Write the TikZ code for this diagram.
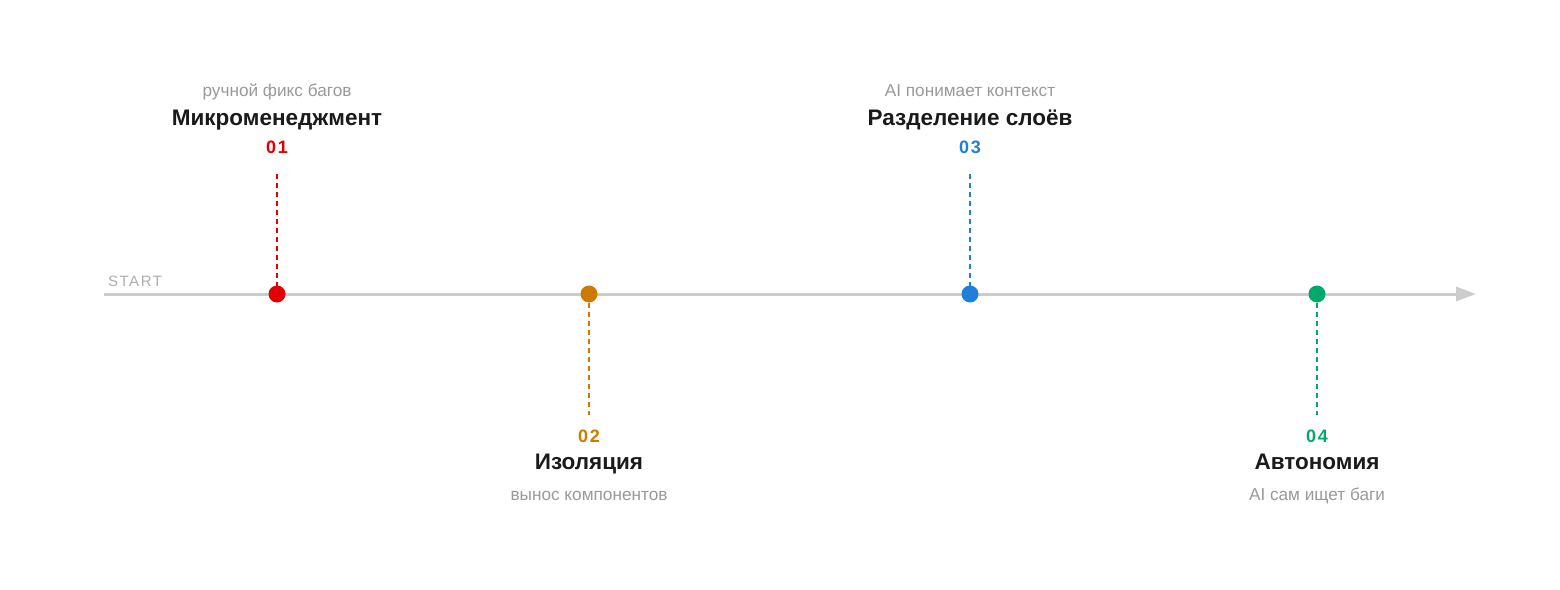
\documentclass[tikz,border=0pt]{standalone}
\usepackage{fontspec}
\setmainfont{Liberation Sans}
\newfontfamily\numfont[LetterSpace=10]{Liberation Sans}
\newfontfamily\startfont[LetterSpace=10]{Liberation Sans}
\usetikzlibrary{arrows.meta}

\definecolor{axisgray}{HTML}{CCCCCC}
\definecolor{subgray}{HTML}{999999}
\definecolor{titleblack}{HTML}{1A1A1A}
\definecolor{stepred}{HTML}{E00000}
\definecolor{steporange}{HTML}{CC7A00}
\definecolor{stepblue}{HTML}{1F7FD9}
\definecolor{stepgreen}{HTML}{00A86B}

\tikzset{
  dot/.style={circle, fill=#1, inner sep=0pt, minimum size=17pt},
  stem/.style={#1, dashed, dash pattern=on 5pt off 4pt, line width=1.6pt},
  num/.style={anchor=base, text=#1, font=\numfont\bfseries\fontsize{18}{21}\selectfont},
  ttl/.style={anchor=base, text=titleblack, font=\bfseries\fontsize{22.5}{26}\selectfont},
  sub/.style={anchor=base, text=subgray, font=\fontsize{17.2}{20}\selectfont},
}

\begin{document}
\begin{tikzpicture}[x=1pt, y=-1pt]
\useasboundingbox (0,0) rectangle (1560,589);

%% axe
\coordinate (axstart) at (104,294);
\coordinate (axend) at (1476,294);
\draw[axisgray, line width=3pt, -{Triangle[length=20pt,width=14pt]}] (axstart) -- (axend);
\node[anchor=base west, inner sep=0pt, text=axisgray!85!black, font=\startfont\fontsize{15}{18}\selectfont] (start) at (108,286) {START};

%% etape 01
\coordinate (top1) at (277,174);
\draw[stem=stepred] (top1) -- (277,294);
\node[dot=stepred] (p1) at (277,294) {};
\node[num=stepred] (n1) at (277,153) {01};
\node[ttl] (t1) at (277,125) {Микроменеджмент};
\node[sub] (s1) at (277,96) {ручной фикс багов};

%% etape 02
\coordinate (bot2) at (589,415);
\draw[stem=steporange] (589,294) -- (bot2);
\node[dot=steporange] (p2) at (589,294) {};
\node[num=steporange] (n2) at (589,442) {02};
\node[ttl] (t2) at (589,469) {Изоляция};
\node[sub] (s2) at (589,500) {вынос компонентов};

%% etape 03
\coordinate (top3) at (970,174);
\draw[stem=stepblue] (top3) -- (970,294);
\node[dot=stepblue] (p3) at (970,294) {};
\node[num=stepblue] (n3) at (970,153) {03};
\node[ttl] (t3) at (970,125) {Разделение слоёв};
\node[sub] (s3) at (970,96) {AI понимает контекст};

%% etape 04
\coordinate (bot4) at (1317,415);
\draw[stem=stepgreen] (1317,294) -- (bot4);
\node[dot=stepgreen] (p4) at (1317,294) {};
\node[num=stepgreen] (n4) at (1317,442) {04};
\node[ttl] (t4) at (1317,469) {Автономия};
\node[sub] (s4) at (1317,500) {AI сам ищет баги};
\end{tikzpicture}
\end{document}
